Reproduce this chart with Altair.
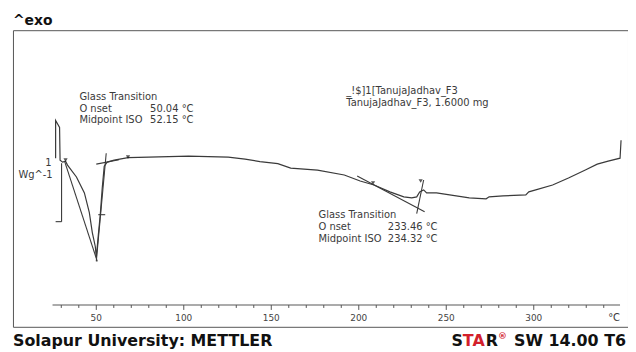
import altair as alt
import pandas as pd

# ---- main DSC curve (temperature in degC, heat flow in W/g, exo up) ----
temp_c = [26.76, 26.76, 29.02, 29.31, 30.73, 32.43, 33.56, 38.66, 43.20, 46.03,
          47.73, 49.43, 50.00, 51.13, 52.27, 53.40, 54.54, 56.24, 60.20, 68.14,
          80.05, 102.72, 125.40, 135.04, 143.54, 153.74, 161.11, 176.42, 191.72, 200.79,
          208.73, 217.80, 225.74, 230.27, 233.11, 234.81, 237.07, 238.78, 244.44, 263.15,
          272.79, 274.49, 282.43, 295.46, 297.17, 301.14, 310.77, 319.84, 329.48, 336.28,
          342.52, 349.32, 349.89]
heat_flow = [0.034, 0.678, 0.559, 0.000, -0.034, -0.017, -0.085, -0.288, -0.559, -0.898,
             -1.237, -1.475, -1.661, -1.288, -0.932, -0.475, -0.102, -0.034, 0.000, 0.042,
             0.051, 0.068, 0.051, 0.017, -0.025, -0.059, -0.136, -0.169, -0.254, -0.356,
             -0.424, -0.542, -0.627, -0.644, -0.627, -0.542, -0.508, -0.559, -0.559, -0.644,
             -0.661, -0.627, -0.610, -0.593, -0.542, -0.508, -0.424, -0.305, -0.169, -0.068,
             -0.017, 0.034, 0.339]

# ---- evaluation (tangent) lines: segment id, temperature, heat flow ----
tan_seg = ["a", "a", "b", "b", "c", "c", "d", "d", "e", "e", "f", "f"]
tan_t = [31.86, 50.57, 50.00, 55.67, 50.00, 63.04, 51.13, 55.10, 199.09, 237.64, 237.07, 233.11]
tan_hf = [-0.017, -1.729, -1.729, 0.119, -0.068, 0.008, -0.932, -0.932, -0.271, -0.881, -0.339, -0.915]

# ---- evaluation markers ----
mark_t = [32.43, 68.14, 208.16, 235.38]
mark_hf = [0.000, 0.051, -0.390, -0.356]

# ---- scale bar (1 W/g) ----
bar_t = 30.16
bar_hf_top = -0.051
bar_hf_bottom = -1.051
bar_tick_t = 26.76

# ---- x axis (drawn inside the frame) ----
axis_hf = -2.475
axis_t_start = 25.0
axis_t_end = 349.3
tick_values = list(range(30, 350, 10))
label_values = [50, 100, 150, 200, 250, 300]
minor_tick_hf = -2.525
major_tick_hf = -2.559
label_hf = -2.746

# ---- annotation texts ----
left_texts = ["Glass Transition", "O nset", "Midpoint ISO",
              "_!$]1[TanujaJadhav_F3", "TanujaJadhav_F3, 1.6000 mg",
              "Glass Transition", "O nset", "Midpoint ISO"]
left_t = [40.36, 40.36, 40.36, 192.86, 192.86, 176.98, 176.98, 176.98]
left_hf = [1.034, 0.831, 0.627, 1.136, 0.932, -0.983, -1.186, -1.390]

right_texts = ["50.04 °C", "52.15 °C", "233.46 °C", "234.32 °C", "1", "Wg^-1", "°C"]
right_t = [105.56, 105.56, 245.01, 245.01, 24.49, 25.06, 349.3]
right_hf = [0.831, 0.627, -1.186, -1.390, -0.102, -0.305, label_hf]

X_DOMAIN = [2.381, 353.86]
Y_DOMAIN = [-2.8475, 2.2203]
LINE = "#3a3a3a"
TEXT = "#3a3a3a"
FONT = "DejaVu Sans"

xs = alt.Scale(domain=X_DOMAIN, nice=False, zero=False)
ys = alt.Scale(domain=Y_DOMAIN, nice=False, zero=False)

curve_df = pd.DataFrame({"T": temp_c, "HF": heat_flow, "i": list(range(len(temp_c)))})
tan_df = pd.DataFrame({"seg": tan_seg, "T": tan_t, "HF": tan_hf})
mark_df = pd.DataFrame({"T": mark_t, "HF": mark_hf})
ticks_df = pd.DataFrame({
    "T": tick_values,
    "y": [axis_hf] * len(tick_values),
    "y2": [major_tick_hf if v in label_values else minor_tick_hf for v in tick_values],
})
labels_df = pd.DataFrame({"T": label_values, "HF": [label_hf] * len(label_values),
                          "txt": [str(v) for v in label_values]})
left_df = pd.DataFrame({"T": left_t, "HF": left_hf, "txt": left_texts})
right_df = pd.DataFrame({"T": right_t, "HF": right_hf, "txt": right_texts})
axis_df = pd.DataFrame({"T": [axis_t_start], "T2": [axis_t_end], "HF": [axis_hf]})
bar_df = pd.DataFrame({"T": [bar_t], "HF": [bar_hf_top], "HF2": [bar_hf_bottom]})
bar_tick_df = pd.DataFrame({"T": [bar_tick_t], "T2": [bar_t], "HF": [bar_hf_bottom]})

X = lambda f="T": alt.X(f"{f}:Q", scale=xs, axis=None)
Y = lambda f="HF": alt.Y(f"{f}:Q", scale=ys, axis=None)

curve = alt.Chart(curve_df).mark_line(color=LINE, strokeWidth=1.2).encode(
    x=X(), y=Y(), order="i:Q")
tangents = alt.Chart(tan_df).mark_line(color=LINE, strokeWidth=1.1).encode(
    x=X(), y=Y(), detail="seg:N")
markers = alt.Chart(mark_df).mark_point(shape="triangle-down", filled=True,
                                        color="#111", size=18).encode(x=X(), y=Y())
bar = alt.Chart(bar_df).mark_rule(color=LINE, strokeWidth=1.1).encode(
    x=X(), y=Y(), y2="HF2:Q")
bar_tick = alt.Chart(bar_tick_df).mark_rule(color=LINE, strokeWidth=1.1).encode(
    x=X(), x2="T2:Q", y=Y())
axis_line = alt.Chart(axis_df).mark_rule(color="#555", strokeWidth=1).encode(
    x=X(), x2="T2:Q", y=Y())
ticks = alt.Chart(ticks_df).mark_rule(color="#555", strokeWidth=1).encode(
    x=X(), y=Y("y"), y2="y2:Q")
labels = alt.Chart(labels_df).mark_text(font=FONT, fontSize=9, color="#444",
                                        align="center", baseline="alphabetic").encode(
    x=X(), y=Y(), text="txt:N")
left_txt = alt.Chart(left_df).mark_text(font=FONT, fontSize=10, color=TEXT,
                                        align="left", baseline="alphabetic").encode(
    x=X(), y=Y(), text="txt:N")
right_txt = alt.Chart(right_df).mark_text(font=FONT, fontSize=10, color=TEXT,
                                          align="right", baseline="alphabetic").encode(
    x=X(), y=Y(), text="txt:N")

# header / footer texts
def label(txt, x, y, size, color="#111", align="left", weight="bold"):
    return alt.Chart(pd.DataFrame({"t": [txt]})).mark_text(
        font=FONT, fontSize=size, fontWeight=weight, color=color,
        align=align, baseline="alphabetic").encode(
        x=alt.value(x), y=alt.value(y), text="t:N")

exo = label("^exo", 0, -5, 14)
footer_left = label("Solapur University: METTLER", 0, 318, 16)
star_s = label("S", 442, 318, 16)
star_ta = label("TA", 453.5, 318, 16, color="#d3202b")
star_r = label("R", 476.5, 318, 16)
star_reg = label("®", 489, 311, 9, color="#d3202b")
star_rest = label("SW 14.00 T6", 618, 318, 16, align="right")

chart = alt.layer(
    axis_line, ticks, labels, bar, bar_tick, tangents, curve, markers,
    left_txt, right_txt, exo, footer_left, star_s, star_ta, star_r, star_reg, star_rest,
).properties(
    width=620, height=299,
    padding={"left": 5, "top": 21, "right": 0, "bottom": 22},
    autosize=alt.AutoSizeParams(type="none"),
    background="white",
).configure_view(stroke="#555", strokeWidth=1)

chart.save("out.html", embed_options={"renderer": "svg", "actions": False})
